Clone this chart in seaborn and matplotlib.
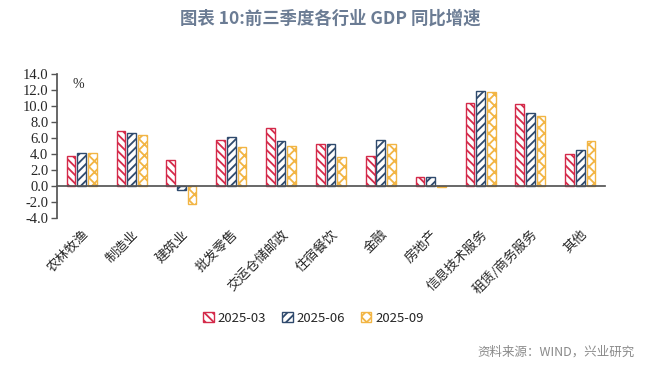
import matplotlib
matplotlib.use("Agg")
import matplotlib.pyplot as plt
from matplotlib.patches import Patch
import seaborn as sns
import pandas as pd

# Data (%, YoY)
industries = ["农林牧渔", "制造业", "建筑业", "批发零售", "交运仓储邮政", "住宿餐饮",
              "金融", "房地产", "信息技术服务", "租赁/商务服务", "其他"]
q_2025_03 = [3.7, 6.9, 3.2, 5.8, 7.2, 5.2, 3.8, 1.1, 10.4, 10.2, 4.0]
q_2025_06 = [4.1, 6.6, -0.5, 6.1, 5.6, 5.3, 5.8, 1.1, 11.9, 9.1, 4.5]
q_2025_09 = [4.1, 6.4, -2.3, 4.9, 5.0, 3.6, 5.3, -0.1, 11.8, 8.7, 5.6]
periods = ["2025-03", "2025-06", "2025-09"]

colors = ["#D42A4A", "#2F4A6D", "#F2B544"]
hatches = ["\\\\\\\\", "////", "xxx"]

df = pd.DataFrame({
    "industry": industries * 3,
    "value": q_2025_03 + q_2025_06 + q_2025_09,
    "period": [p for p in periods for _ in industries],
})

sns.set_theme(style="white")
plt.rcParams["font.family"] = ["Noto Sans CJK SC", "DejaVu Sans"]
plt.rcParams["hatch.linewidth"] = 1.3

fig = plt.figure(figsize=(6.6, 3.65), dpi=100)
ax = fig.add_axes([0.086, 0.403, 0.831, 0.394])

sns.barplot(data=df, x="industry", y="value", hue="period", hue_order=periods,
            palette=colors, width=0.64, gap=0.18, ax=ax, legend=False)

for cont, c, h in zip(ax.containers, colors, hatches):
    for bar in cont:
        bar.set_facecolor("white")
        bar.set_edgecolor(c)
        bar.set_hatch(h)
        bar.set_linewidth(1.0)

n = len(industries)
ax.set_xlim(-0.5, n - 0.5)
ax.set_ylim(-4, 14)
ax.set_yticks(range(-4, 15, 2))
ax.set_yticklabels([f"{v:.1f}" for v in range(-4, 15, 2)],
                   family=["Liberation Serif"], fontsize=10.5)

# x axis sits on zero, boundary ticks, labels pushed below the plot
for s in ["top", "right"]:
    ax.spines[s].set_visible(False)
ax.spines["bottom"].set_position(("data", 0))
ax.spines["bottom"].set_color("#555555")
ax.spines["left"].set_color("#555555")
ax.set_xticks(range(n))
ax.set_xticklabels(industries, rotation=45, ha="right", rotation_mode="anchor",
                   fontsize=9.5)
ax.set_xticks([i + 0.5 for i in range(-1, n)], minor=True)
ax.tick_params(axis="x", which="major", length=0, pad=30)
ax.tick_params(axis="x", which="minor", length=4, direction="inout",
               color="#555555", width=1)
ax.tick_params(axis="y", length=4, direction="out", color="#555555",
               width=1, pad=2, left=True)
ax.set_xlabel("")
ax.set_ylabel("")

ax.text(0.04, 0.93, "%", transform=ax.transAxes, fontsize=10,
        family=["Liberation Serif"], ha="center", va="center")

handles = [Patch(facecolor="white", edgecolor=c, hatch=h, linewidth=1.0, label=p)
           for c, h, p in zip(colors, hatches, periods)]
fig.legend(handles=handles, loc="center", bbox_to_anchor=(0.475, 0.128), ncol=3,
           frameon=False, fontsize=9.5, handlelength=0.8, handleheight=0.8,
           handletextpad=0.3, columnspacing=1.2)

fig.text(0.5, 0.95, "图表 10:前三季度各行业 GDP 同比增速", ha="center", va="center",
         fontsize=12.5, color="#6B7C94", fontweight="bold")
fig.text(0.962, 0.035, "资料来源：WIND，兴业研究", ha="right", va="center",
         fontsize=9, color="#8A8A8A")

fig.savefig("out.png", dpi=100)
